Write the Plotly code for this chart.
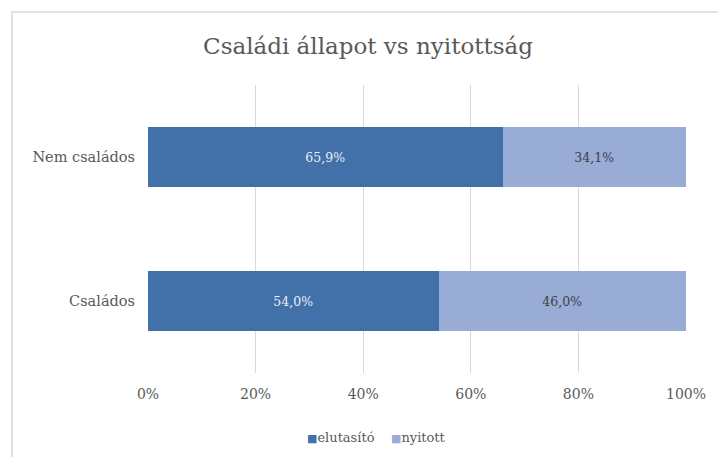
import plotly.graph_objects as go

# Családi állapot szerinti megoszlás (arányok)
categories = ["Családos", "Nem családos"]
elutasito = [0.540, 0.659]
nyitott = [0.460, 0.341]
tick_vals = [0, 0.2, 0.4, 0.6, 0.8, 1.0]
tick_text = ["0%", "20%", "40%", "60%", "80%", "100%"]
series_names = ["elutasító", "nyitott"]
series_colors = ["#4270A8", "#98ACD6"]

W, H = 718, 457
L, R, T, B = 148, 32, 85, 84
FONT = "DejaVu Serif, serif"
GREY = "#595959"

fig = go.Figure()
fig.add_trace(go.Bar(
    y=categories, x=elutasito, name=series_names[0], orientation="h",
    marker=dict(color=series_colors[0], line=dict(width=0)),
    texttemplate="%{x:.1%}", textposition="inside", insidetextanchor="middle",
    textfont=dict(color="#E8EEF7", size=12.5, family=FONT),
))
fig.add_trace(go.Bar(
    y=categories, x=nyitott, name=series_names[1], orientation="h",
    marker=dict(color=series_colors[1], line=dict(width=0)),
    texttemplate="%{x:.1%}", textposition="inside", insidetextanchor="middle",
    textfont=dict(color="#404040", size=12.5, family=FONT),
))

# compact legend row: coloured square directly before each name
legend_text = "    ".join(
    f"<span style='color:{c};font-size:11px'>■</span>{n}"
    for n, c in zip(series_names, series_colors)
)

pw = W - L - R
ph = H - T - B
fig.update_layout(
    width=W, height=H,
    margin=dict(l=L, r=R, t=T, b=B),
    barmode="stack", bargap=0.59,
    separators=",.",
    paper_bgcolor="white", plot_bgcolor="white",
    font=dict(family=FONT, color=GREY, size=14),
    showlegend=False,
    title=dict(text="Családi állapot vs nyitottság", xref="container", x=368 / W,
               xanchor="center", yref="container", y=1 - 46 / H, yanchor="middle",
               font=dict(size=23, color=GREY, family=FONT)),
    xaxis=dict(range=[0, 1], tickvals=tick_vals, ticktext=tick_text,
               showgrid=True, gridcolor="#D9D9D9", gridwidth=1, zeroline=False,
               showline=False, ticks="", ticklabelstandoff=11,
               tickfont=dict(size=14, color=GREY)),
    yaxis=dict(showgrid=False, zeroline=False, showline=False, ticks="",
               ticklabelstandoff=12, tickfont=dict(size=14.5, color=GREY)),
    annotations=[dict(text=legend_text, xref="paper", yref="paper",
                      x=(376 - L) / pw, y=(H - B - 437) / ph,
                      xanchor="center", yanchor="middle", showarrow=False,
                      font=dict(size=13, color=GREY, family=FONT))],
    shapes=[dict(type="rect", xref="paper", yref="paper",
                 x0=(12 - L) / pw, x1=(W + 20 - L) / pw,
                 y0=(H - B - (H + 20)) / ph, y1=(H - B - 12) / ph,
                 line=dict(color="#D9D9D9", width=1.5), fillcolor="rgba(0,0,0,0)",
                 layer="below")],
)

fig.write_html("out.html")
